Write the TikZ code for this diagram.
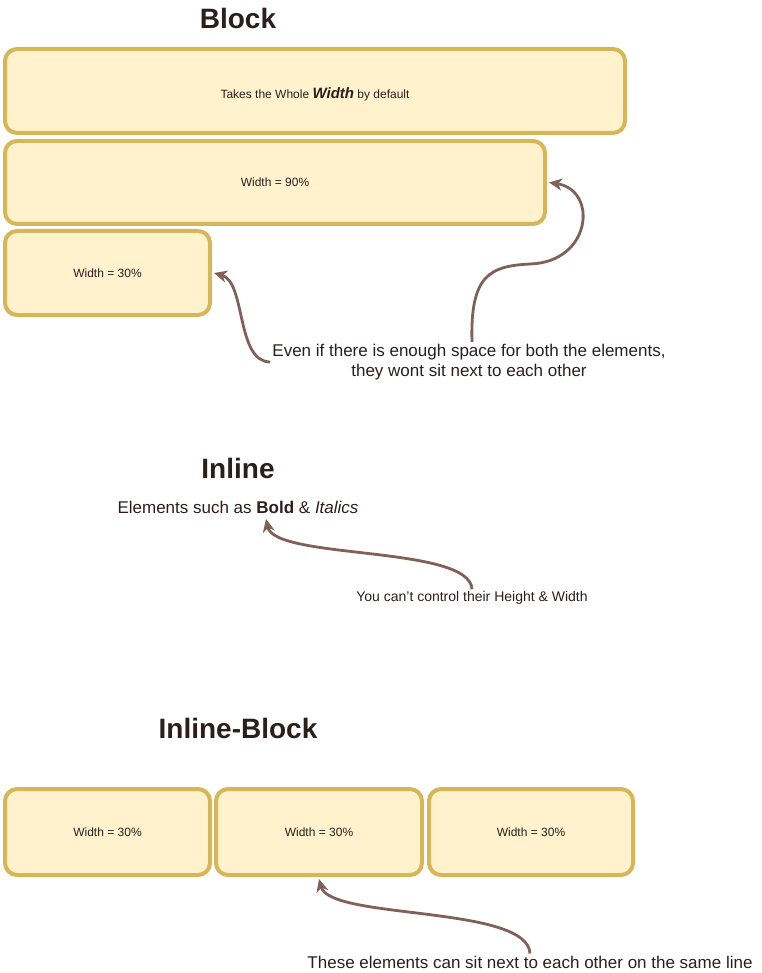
\documentclass[tikz,border=0pt]{standalone}
\usepackage{fontspec}
\setmainfont{Liberation Sans}
\usepackage{tikz}
\usetikzlibrary{arrows.meta, positioning}

\definecolor{boxline}{HTML}{D6B656}
\definecolor{boxfill}{HTML}{FFF2CC}
\definecolor{textdark}{HTML}{2A1E1E}
\definecolor{arrowcol}{HTML}{806058}

\tikzset{
  blockbox/.style={draw=boxline, fill=boxfill, line width=4pt, rounded corners=12pt,
    inner sep=0pt, text=textdark, font=\fontsize{12}{14}\selectfont},
  heading/.style={font=\fontsize{28}{32}\selectfont\bfseries, text=textdark},
  remark/.style={text=textdark, align=center, inner sep=2pt},
  curly/.style={-{Stealth[length=13pt, width=12pt, inset=4pt]}, draw=arrowcol, line width=2.8pt},
}

\begin{document}
\begin{tikzpicture}[x=1pt, y=-1pt]
  \useasboundingbox (0,0) rectangle (761,973);

  % block part
  \node[heading] (blocktitle) at (238,18) {Block};
  \node[blockbox, minimum width=620pt, minimum height=84pt, text height=18pt, text depth=3pt] (whole) at (315,91)
    {\fontsize{12}{14}\selectfont Takes the Whole {\fontsize{15}{17}\selectfont\bfseries\itshape Width} by default};
  \node[blockbox, minimum width=540pt, minimum height=83pt] (ninety) at (275,182.5) {Width = 90\%};
  \node[blockbox, minimum width=205pt, minimum height=84pt] (thirty) at (107.5,273) {Width = 30\%};
  \node[remark, font=\fontsize{17}{20}\selectfont] (evenif) at (469,362)
    {Even if there is enough space for both the elements,\\they wont sit next to each other};
  \draw[curly] (evenif.west) .. controls (236,362) and (246,282) .. ([xshift=2pt]thirty.east);
  \draw[curly] ([xshift=3pt]evenif.north) .. controls (470,275) and (490,266) .. (530,264)
    .. controls (592,262) and (598,190) .. ([xshift=2pt]ninety.east);

  % inline part
  \node[heading] (inlinetitle) at (238,468) {Inline};
  \node[remark, font=\fontsize{17}{20}\selectfont] (elements) at (238,507)
    {Elements such as \textbf{Bold} \& \textit{Italics}};
  \coordinate (boldtip) at (266,519);
  \node[remark, font=\fontsize{14}{16}\selectfont] (control) at (472,598)
    {You can't control their Height \& Width};
  \draw[curly] (control.north) .. controls (470,545) and (275,560) .. (boldtip);

  % inline-block part
  \node[heading] (ibtitle) at (238,728) {Inline-Block};
  \node[blockbox, minimum width=205pt, minimum height=86pt] (firstib) at (107.5,832) {Width = 30\%};
  \node[blockbox, minimum width=206pt, minimum height=86pt] (secondib) at (319,832) {Width = 30\%};
  \node[blockbox, minimum width=204pt, minimum height=86pt] (thirdib) at (531,832) {Width = 30\%};
  \node[remark, font=\fontsize{17}{20}\selectfont] (sameline) at (530,962)
    {These elements can sit next to each other on the same line};
  \draw[curly] (sameline.north) .. controls (528,905) and (330,920) .. ([yshift=-2pt]secondib.south);
\end{tikzpicture}
\end{document}
